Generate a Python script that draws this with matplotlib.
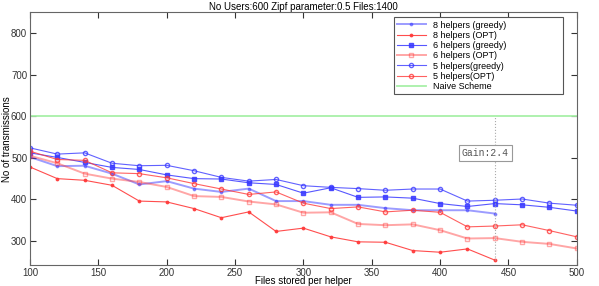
import matplotlib
matplotlib.use("Agg")
import matplotlib.pyplot as plt

plt.rcParams["font.family"] = ["Liberation Sans", "DejaVu Sans"]

files = [100, 120, 140, 160, 180, 200, 220, 240, 260, 280, 300,
         320, 340, 360, 380, 400, 420, 440, 460, 480, 500]

# 8 helpers stop at 440
greedy8 = [502, 480, 481, 462, 436, 444, 426, 418, 426, 396, 396,
           387, 387, 379, 374, 374, 374, 366]
opt8 = [478, 450, 446, 434, 396, 394, 378, 356, 370, 323, 331,
        310, 298, 297, 277, 273, 281, 254]
greedy6 = [512, 501, 489, 477, 472, 459, 450, 449, 440, 436, 415,
           428, 405, 406, 403, 390, 383, 390, 387, 381, 372]
opt6 = [505, 487, 462, 450, 442, 430, 408, 406, 395, 388, 368,
        369, 341, 338, 340, 326, 306, 307, 298, 293, 282]
greedy5 = [524, 509, 512, 487, 481, 482, 469, 453, 444, 448, 433,
           429, 426, 422, 425, 425, 396, 398, 401, 391, 386]
opt5 = [516, 496, 494, 464, 462, 452, 438, 425, 412, 418, 391,
        378, 382, 370, 374, 369, 334, 336, 339, 325, 310]
naive = 600
gain_x = 440
gain = naive / opt8[-1]

fig = plt.figure(figsize=(5.99, 2.86), dpi=100)
ax = fig.add_axes([0.050, 0.073, 0.913, 0.884])

blue = "#3a3aff"
red = "#ff3a3a"

ax.plot(files[:len(greedy8)], greedy8, color=blue, marker=".", markersize=3.5,
        linewidth=1.4, alpha=0.5, label="8 helpers (greedy)")
ax.plot(files[:len(opt8)], opt8, color=red, marker=".", markersize=3.5,
        linewidth=0.8, alpha=0.9, label="8 helpers (OPT)")
ax.plot(files, greedy6, color=blue, marker="s", markersize=2.2,
        linewidth=0.8, alpha=0.85, label="6 helpers (greedy)")
ax.plot(files, opt6, color=red, marker="s", markersize=2.8, mfc="none",
        linewidth=1.4, alpha=0.45, label="6 helpers (OPT)")
ax.plot(files, greedy5, color=blue, marker="o", markersize=3, mfc="none",
        linewidth=0.8, alpha=0.8, label="5 helpers(greedy)")
ax.plot(files, opt5, color=red, marker="o", markersize=3, mfc="none",
        linewidth=0.8, alpha=0.8, label="5 helpers(OPT)")
ax.axhline(naive, color="#a8f0a8", linewidth=1.3, label="Naive Scheme")

# gain marker
ax.plot([gain_x, gain_x], [opt8[-1], naive], color="#aaaaaa",
        linestyle=":", linewidth=0.8)
ax.text(gain_x - 7, 512, f"Gain:{gain:.1f}", family="Liberation Mono",
        fontsize=7, color="#555555", ha="center", va="center",
        bbox=dict(boxstyle="square,pad=0.3", fc="white", ec="#999999", lw=0.8))

ax.set_xlim(100, 500)
ax.set_ylim(242, 850)
ax.set_xticks(range(100, 501, 50))
ax.set_yticks(range(300, 801, 100))
ax.tick_params(direction="in", top=True, right=True, length=4,
               labelsize=7, colors="#333333", pad=2)
for s in ax.spines.values():
    s.set_color("#666666")
    s.set_linewidth(0.8)

ax.set_title("No Users:600 Zipf parameter:0.5 Files:1400", fontsize=7, pad=2)
ax.set_xlabel("Files stored per helper", fontsize=7)
ax.set_ylabel("No of transmissions", fontsize=7)
ax.xaxis.set_label_coords(0.5, -0.045)
ax.yaxis.set_label_coords(-0.032, 0.5)

leg = ax.legend(loc="upper left", bbox_to_anchor=(0.665, 0.668, 0.309, 0.312),
                mode="expand", fontsize=6.5, handlelength=3.2, labelspacing=0.14,
                fancybox=False, edgecolor="#555555", framealpha=1,
                borderpad=0.35, borderaxespad=0)
leg.get_frame().set_linewidth(0.8)

fig.savefig("out.png", dpi=100)
